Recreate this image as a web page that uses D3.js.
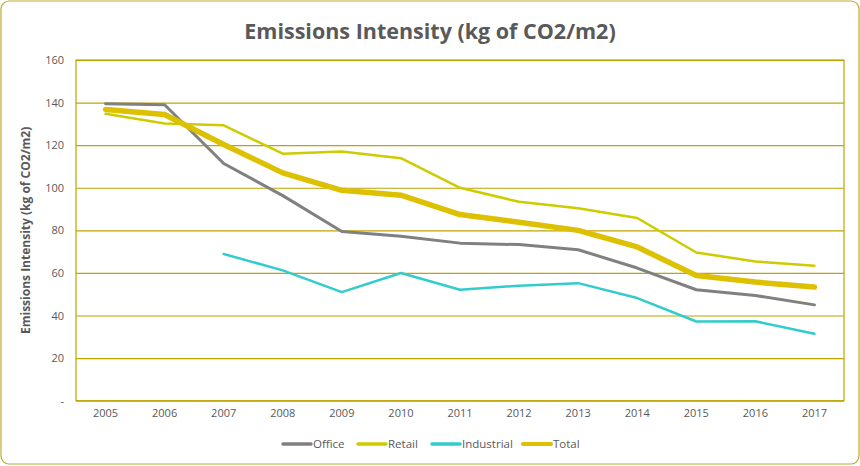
<!DOCTYPE html>
<html>
<head>
<meta charset="utf-8">
<script src="https://cdn.jsdelivr.net/npm/d3@7"></script>
<style>
  body { margin: 0; background: white; }
  svg text { font-family: "Open Sans", sans-serif; fill: #595959; }
  .tick text { font-size: 11px; }
  .chart-title { font-size: 21.5px; font-weight: bold; }
  .axis-label { font-size: 12px; font-weight: bold; }
  .legend text { font-size: 11.5px; }
</style>
</head>
<body>
<svg width="860" height="466"></svg>
<script>
const years = ['2005','2006','2007','2008','2009','2010','2011','2012','2013','2014','2015','2016','2017'];
const office = [139.5, 139, 111.4, 96.3, 79.5, 77.2, 74, 73.3, 70.9, 62.3, 52.1, 49.4, 45];
const retail = [134.8, 130.2, 129.3, 116, 117, 113.9, 100, 93.4, 90.4, 85.8, 69.6, 65.4, 63.4];
const industrial = [null, null, 68.9, 61.2, 51, 60, 52.1, 54, 55.2, 48.2, 37.2, 37.3, 31.4];
const total = [136.8, 134.4, 120.3, 107, 98.8, 96.5, 87.4, 83.8, 80, 72.2, 58.8, 55.7, 53.4];
const yTicks = [0, 20, 40, 60, 80, 100, 120, 140, 160];

const seriesList = [
    { name: 'Office', values: office, color: '#808080', width: 3 },
    { name: 'Retail', values: retail, color: '#CCCC00', width: 2.5 },
    { name: 'Industrial', values: industrial, color: '#33CCCC', width: 2.5 },
    { name: 'Total', values: total, color: '#DDC000', width: 5.5 },
];

const svg = d3.select('svg');
const svg_width = +svg.attr('width');
const svg_height = +svg.attr('height');

// outer frame
svg.append('rect')
    .attr('x', 1).attr('y', 1)
    .attr('width', svg_width - 2).attr('height', svg_height - 3)
    .attr('rx', 8)
    .attr('fill', 'white')
    .attr('stroke', '#C0A92A')
    .attr('stroke-width', 1.2);

const margin = { top: 60, left: 76, right: 16, bottom: 65 };
const innerWidth = svg_width - margin.left - margin.right;
const innerHeight = 400.7 - margin.top;

const xScale = d3.scaleBand().domain(years).range([0, innerWidth]);
const yScale = d3.scaleLinear().domain([0, 160]).range([innerHeight, 0]);

const g = svg.append('g').attr('transform', `translate(${margin.left},${margin.top})`);

svg.append('text')
    .attr('class', 'chart-title')
    .attr('x', 430).attr('y', 39)
    .attr('text-anchor', 'middle')
    .text('Emissions Intensity (kg of CO2/m2)');

// gridlines + y labels
const yAxis = d3.axisLeft(yScale)
    .tickValues(yTicks)
    .tickSize(-innerWidth)
    .tickPadding(12)
    .tickFormat(d => d === 0 ? '-' : d);
const yAxisGroup = g.append('g').call(yAxis);
yAxisGroup.select('.domain').remove();
yAxisGroup.selectAll('.tick line').attr('stroke', '#BFA500').attr('stroke-width', 1.2);

const xAxis = d3.axisBottom(xScale).tickSize(0).tickPadding(9);
const xAxisGroup = g.append('g').attr('transform', `translate(0,${innerHeight})`).call(xAxis);
xAxisGroup.select('.domain').remove();

// plot border
g.append('rect')
    .attr('width', innerWidth).attr('height', innerHeight)
    .attr('fill', 'none')
    .attr('stroke', '#BFA500')
    .attr('stroke-width', 1.2);

svg.append('text')
    .attr('class', 'axis-label')
    .attr('transform', `translate(30,${margin.top + innerHeight / 2}) rotate(-90)`)
    .attr('text-anchor', 'middle')
    .text('Emissions Intensity (kg of CO2/m2)');

const line = d3.line()
    .defined(d => d.v !== null)
    .x(d => xScale(d.year) + xScale.bandwidth() / 2)
    .y(d => yScale(d.v));

seriesList.forEach(s => {
    g.append('path')
        .datum(years.map((year, i) => ({ year, v: s.values[i] })))
        .attr('d', line)
        .attr('fill', 'none')
        .attr('stroke', s.color)
        .attr('stroke-width', s.width)
        .attr('stroke-linejoin', 'round')
        .attr('stroke-linecap', 'round');
});

// legend
const legendX = [283, 358, 432, 523];
const legend = svg.append('g').attr('class', 'legend');
seriesList.forEach((s, i) => {
    const lg = legend.append('g').attr('transform', `translate(${legendX[i]},444)`);
    lg.append('line')
        .attr('x1', 0).attr('x2', 28)
        .attr('stroke', s.color)
        .attr('stroke-width', s.width > 4 ? 4 : 3.5)
        .attr('stroke-linecap', 'round');
    lg.append('text')
        .attr('x', 30).attr('y', 4)
        .text(s.name);
});
</script>
</body>
</html>
